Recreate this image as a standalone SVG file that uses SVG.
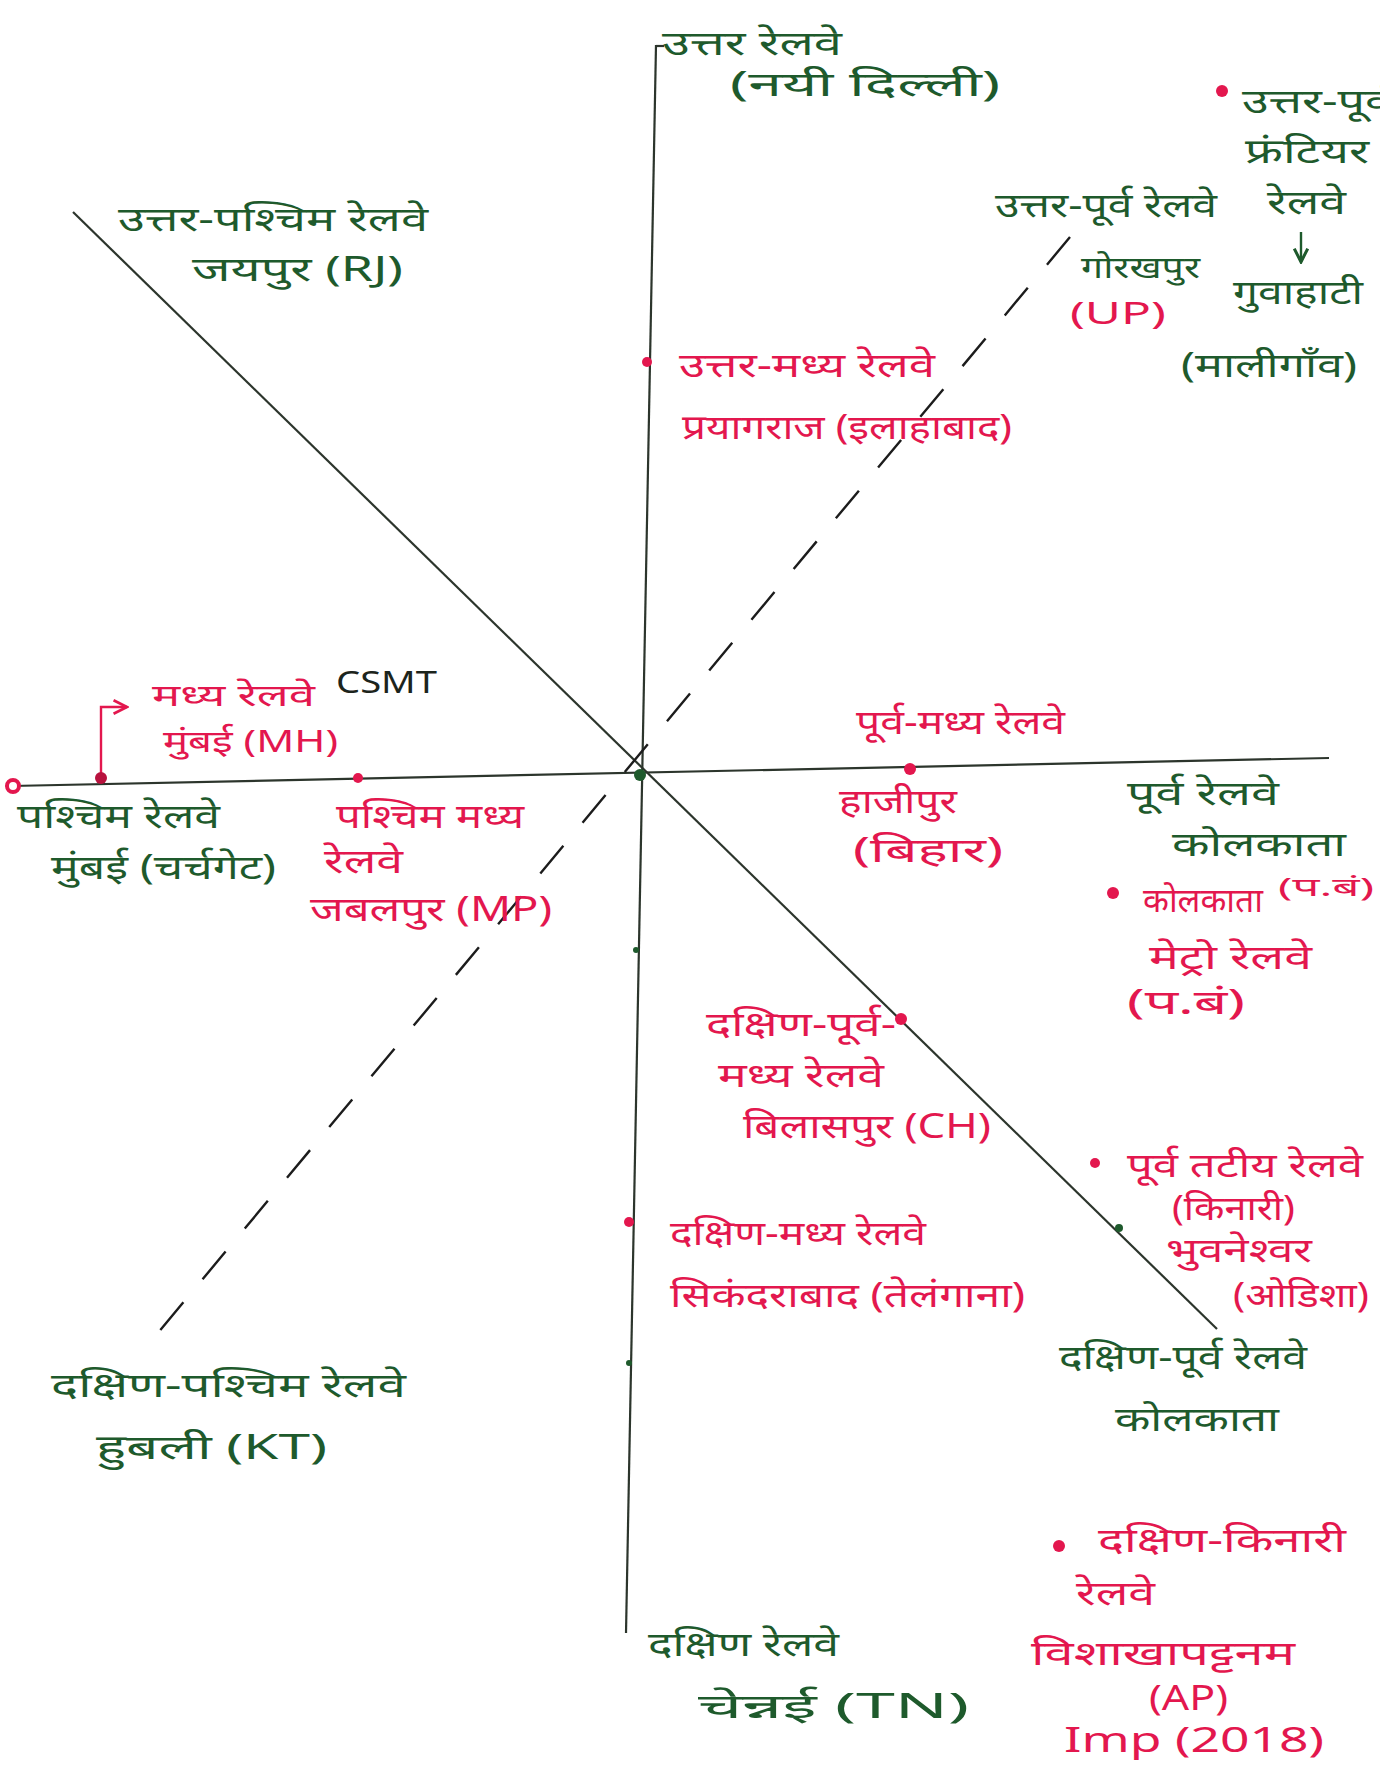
<svg xmlns="http://www.w3.org/2000/svg" width="1380" height="1767" viewBox="0 0 1380 1767">
<defs>
<style>
text{font-family:"Noto Sans","Noto Sans Devanagari","Lohit Devanagari",sans-serif;font-size:34px}
.g{fill:#1e5a2c}
.r{fill:#e3174e}
.k{fill:#1c241c}
.sm{font-size:26px}
.md{font-size:30px}
.ax{stroke:#2c352c;stroke-width:2.2;fill:none}
.dash{stroke:#1c1c1c;stroke-width:2.4;fill:none;stroke-dasharray:36 30}
.rd{fill:#e3174e}
.gd{fill:#1e5a2c}
</style>
<marker id="ar" viewBox="0 0 10 10" refX="9" refY="5" markerWidth="7" markerHeight="7" orient="auto"><path d="M1,1 L9,5 L1,9" fill="none" stroke="#e3174e" stroke-width="1.6"/></marker>
<marker id="ag" viewBox="0 0 10 10" refX="9" refY="5" markerWidth="7" markerHeight="7" orient="auto"><path d="M1,1 L9,5 L1,9" fill="none" stroke="#1e5a2c" stroke-width="1.8"/></marker>
</defs>
<rect width="1380" height="1767" fill="#ffffff"/>
<g id="connectors">
<line class="ax" x1="656" y1="45" x2="626" y2="1633"/>
<line class="ax" x1="11" y1="786" x2="1329" y2="758"/>
<line class="ax" x1="73" y1="212" x2="1217" y2="1329"/>
<line class="dash" x1="1070" y1="237" x2="152" y2="1340"/>
<line x1="656" y1="46" x2="664" y2="46" class="ax"/>
<path d="M101,777 L101,707 L127,707" fill="none" stroke="#e3174e" stroke-width="2.4" marker-end="url(#ar)"/>
<line x1="1301" y1="232" x2="1301" y2="262" stroke="#1e5a2c" stroke-width="2.4" marker-end="url(#ag)"/>
<circle cx="640" cy="775" r="6" class="gd"/>
<circle cx="647" cy="362" r="5" class="rd"/>
<circle cx="13" cy="786" r="6" fill="#fff" stroke="#e3174e" stroke-width="4"/>
<circle cx="101" cy="778" r="6" fill="#b8123e"/>
<circle cx="358" cy="778" r="5" class="rd"/>
<circle cx="910" cy="769" r="6" class="rd"/>
<circle cx="901" cy="1019" r="6" class="rd"/>
<circle cx="629" cy="1222" r="5" class="rd"/>
<circle cx="636" cy="950" r="3" class="gd"/>
<circle cx="629" cy="1363" r="3" class="gd"/>
<circle cx="1119" cy="1228" r="4" class="gd"/>
</g>
<g id="n-uttar">
<text class="g" x="662" y="55" textLength="180" lengthAdjust="spacingAndGlyphs">उत्तर रेलवे</text>
<text class="g" x="730" y="96" textLength="270" lengthAdjust="spacingAndGlyphs">(नयी दिल्ली)</text>
</g>
<g id="n-uttar-paschim">
<text class="g" x="118" y="231" textLength="310" lengthAdjust="spacingAndGlyphs">उत्तर-पश्चिम रेलवे</text>
<text class="g" x="192" y="281" textLength="211" lengthAdjust="spacingAndGlyphs">जयपुर (RJ)</text>
</g>
<g id="n-uttar-purv">
<text class="g" x="995" y="217" textLength="222" lengthAdjust="spacingAndGlyphs">उत्तर-पूर्व रेलवे</text>
<text class="g md" x="1081" y="278" textLength="119" lengthAdjust="spacingAndGlyphs">गोरखपुर</text>
<text class="r md" x="1070" y="324" textLength="96" lengthAdjust="spacingAndGlyphs">(UP)</text>
</g>
<g id="n-nf">
<circle cx="1222" cy="91" r="6" class="rd"/>
<text class="g" x="1242" y="113" textLength="150" lengthAdjust="spacingAndGlyphs">उत्तर-पूर्व</text>
<text class="g" x="1245" y="163" textLength="124" lengthAdjust="spacingAndGlyphs">फ्रंटियर</text>
<text class="g" x="1267" y="214" textLength="79" lengthAdjust="spacingAndGlyphs">रेलवे</text>
<text class="g" x="1233" y="304" textLength="130" lengthAdjust="spacingAndGlyphs">गुवाहाटी</text>
<text class="g" x="1181" y="377" textLength="176" lengthAdjust="spacingAndGlyphs">(मालीगाँव)</text>
</g>
<g id="n-uttar-madhya">
<text class="r" x="679" y="377" textLength="256" lengthAdjust="spacingAndGlyphs">उत्तर-मध्य रेलवे</text>
<text class="r" x="682" y="439" textLength="330" lengthAdjust="spacingAndGlyphs">प्रयागराज (इलाहाबाद)</text>
</g>
<g id="n-madhya">
<text class="r md" x="152" y="706" textLength="163" lengthAdjust="spacingAndGlyphs">मध्य रेलवे</text>
<text class="k md" x="336" y="693" textLength="101" lengthAdjust="spacingAndGlyphs">CSMT</text>
<text class="r md" x="163" y="752" textLength="175" lengthAdjust="spacingAndGlyphs">मुंबई (MH)</text>
</g>
<g id="n-paschim">
<text class="g" x="17" y="828" textLength="203" lengthAdjust="spacingAndGlyphs">पश्चिम रेलवे</text>
<text class="g" x="51" y="879" textLength="225" lengthAdjust="spacingAndGlyphs">मुंबई (चर्चगेट)</text>
</g>
<g id="n-paschim-madhya">
<text class="r" x="336" y="828" textLength="188" lengthAdjust="spacingAndGlyphs">पश्चिम मध्य</text>
<text class="r" x="324" y="873" textLength="79" lengthAdjust="spacingAndGlyphs">रेलवे</text>
<text class="r" x="310" y="921" textLength="242" lengthAdjust="spacingAndGlyphs">जबलपुर (MP)</text>
</g>
<g id="n-purv-madhya">
<text class="r" x="856" y="734" textLength="209" lengthAdjust="spacingAndGlyphs">पूर्व-मध्य रेलवे</text>
<text class="r" x="839" y="813" textLength="118" lengthAdjust="spacingAndGlyphs">हाजीपुर</text>
<text class="r" x="853" y="862" textLength="150" lengthAdjust="spacingAndGlyphs">(बिहार)</text>
</g>
<g id="n-purv">
<text class="g" x="1127" y="805" textLength="152" lengthAdjust="spacingAndGlyphs">पूर्व रेलवे</text>
<text class="g" x="1172" y="856" textLength="174" lengthAdjust="spacingAndGlyphs">कोलकाता</text>
<text class="r sm" x="1278" y="896" textLength="96" lengthAdjust="spacingAndGlyphs">(प.बं)</text>
</g>
<g id="n-metro">
<circle cx="1113" cy="893" r="6" class="rd"/>
<text class="r" x="1143" y="912" textLength="120" lengthAdjust="spacingAndGlyphs">कोलकाता</text>
<text class="r" x="1149" y="969" textLength="163" lengthAdjust="spacingAndGlyphs">मेट्रो रेलवे</text>
<text class="r" x="1127" y="1014" textLength="118" lengthAdjust="spacingAndGlyphs">(प.बं)</text>
</g>
<g id="n-dpm">
<text class="r" x="706" y="1036" textLength="190" lengthAdjust="spacingAndGlyphs">दक्षिण-पूर्व-</text>
<text class="r" x="718" y="1087" textLength="166" lengthAdjust="spacingAndGlyphs">मध्य रेलवे</text>
<text class="r" x="743" y="1138" textLength="248" lengthAdjust="spacingAndGlyphs">बिलासपुर (CH)</text>
</g>
<g id="n-purv-tatiya">
<circle cx="1095" cy="1163" r="5" class="rd"/>
<text class="r" x="1127" y="1177" textLength="236" lengthAdjust="spacingAndGlyphs">पूर्व तटीय रेलवे</text>
<text class="r" x="1172" y="1220" textLength="123" lengthAdjust="spacingAndGlyphs">(किनारी)</text>
<text class="r" x="1166" y="1262" textLength="146" lengthAdjust="spacingAndGlyphs">भुवनेश्वर</text>
<text class="r" x="1233" y="1307" textLength="136" lengthAdjust="spacingAndGlyphs">(ओडिशा)</text>
</g>
<g id="n-dakshin-madhya">
<text class="r" x="670" y="1245" textLength="256" lengthAdjust="spacingAndGlyphs">दक्षिण-मध्य रेलवे</text>
<text class="r" x="670" y="1307" textLength="355" lengthAdjust="spacingAndGlyphs">सिकंदराबाद (तेलंगाना)</text>
</g>
<g id="n-dakshin-purv">
<text class="g" x="1059" y="1369" textLength="248" lengthAdjust="spacingAndGlyphs">दक्षिण-पूर्व रेलवे</text>
<text class="g" x="1115" y="1431" textLength="164" lengthAdjust="spacingAndGlyphs">कोलकाता</text>
</g>
<g id="n-dakshin-paschim">
<text class="g" x="51" y="1397" textLength="355" lengthAdjust="spacingAndGlyphs">दक्षिण-पश्चिम रेलवे</text>
<text class="g" x="96" y="1459" textLength="231" lengthAdjust="spacingAndGlyphs">हुबली (KT)</text>
</g>
<g id="n-dakshin">
<text class="g" x="648" y="1656" textLength="191" lengthAdjust="spacingAndGlyphs">दक्षिण रेलवे</text>
<text class="g" x="698" y="1718" textLength="271" lengthAdjust="spacingAndGlyphs">चेन्नई (TN)</text>
</g>
<g id="n-dakshin-kinari">
<circle cx="1059" cy="1546" r="6" class="rd"/>
<text class="r" x="1098" y="1552" textLength="248" lengthAdjust="spacingAndGlyphs">दक्षिण-किनारी</text>
<text class="r" x="1076" y="1605" textLength="79" lengthAdjust="spacingAndGlyphs">रेलवे</text>
<text class="r" x="1031" y="1665" textLength="264" lengthAdjust="spacingAndGlyphs">विशाखापट्टनम</text>
<text class="r" x="1149" y="1710" textLength="79" lengthAdjust="spacingAndGlyphs">(AP)</text>
<text class="r" x="1064" y="1752" font-size="30" textLength="260" lengthAdjust="spacingAndGlyphs">Imp (2018)</text>
</g>
</svg>
